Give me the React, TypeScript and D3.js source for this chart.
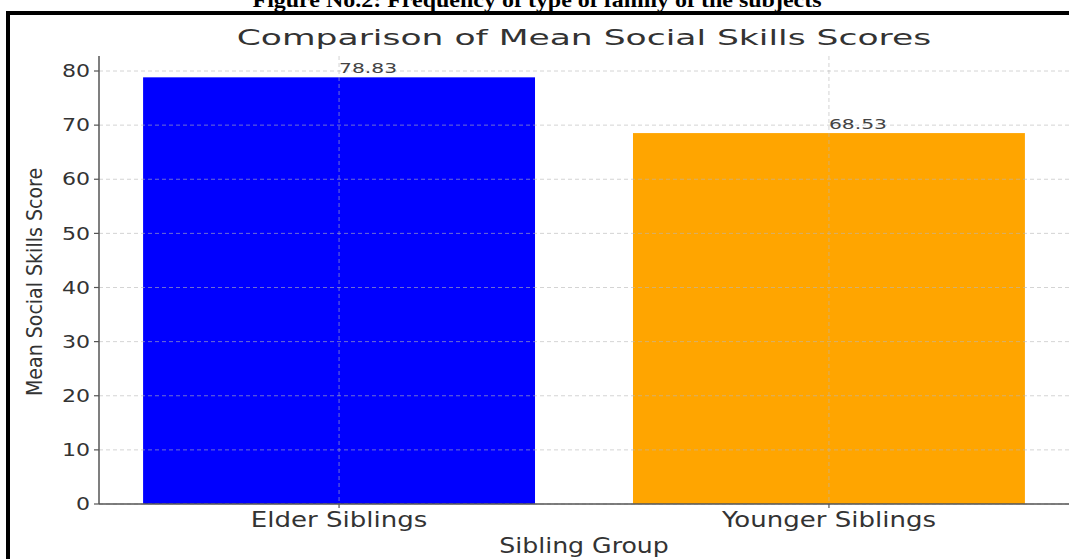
import React from "react";
import * as d3 from "d3";

// chart data
const groups = ["Elder Siblings", "Younger Siblings"];
const meanScores = [78.83, 68.53];
const barColors = ["#0000ff", "#ffa500"];
const yTicks = [0, 10, 20, 30, 40, 50, 60, 70, 80];

const W = 1069;
const H = 559;
const margin = { top: 56, right: 0, bottom: 55, left: 99 };
const FONT = "DejaVu Sans, sans-serif";

// horizontally stretched text (the source picture was widened)
function Stretched({ x, y, sx = 1.3, size, anchor = "middle", fill = "#333", children, dy = 0 }: any) {
  return (
    <text
      transform={`translate(${x},${y}) scale(${sx},1)`}
      textAnchor={anchor}
      fontSize={size}
      fontFamily={FONT}
      fill={fill}
      dy={dy}
    >
      {children}
    </text>
  );
}

export default function App() {
  const x0 = margin.left;
  const x1 = W - margin.right;
  const yBottom = H - margin.bottom;

  // matplotlib-like x limits: bars at 0 and 1, width 0.8, 5% margin
  const x = d3.scaleLinear().domain([-0.49, 1.49]).range([x0, x1]);
  const y = d3
    .scaleLinear()
    .domain([0, d3.max(meanScores)! * 1.05])
    .range([yBottom, margin.top]);
  const barW = x(0.8) - x(0);

  return (
    <div style={{ position: "absolute", left: 0, top: 0 }}>
      <svg width={W} height={H} style={{ display: "block", background: "#fff" }}>
        {/* figure caption, cut off at the top */}
        <text
          x={537}
          y={7}
          textAnchor="middle"
          fontFamily="Liberation Serif, Times New Roman, serif"
          fontWeight="bold"
          fontSize={22}
          textLength={569}
          lengthAdjust="spacingAndGlyphs"
          fill="#000"
        >
          Figure No.2: Frequency of type of family of the subjects
        </text>
        {/* frame */}
        <rect x={6} y={11} width={W} height={4} fill="#000" />
        <rect x={6} y={11} width={4} height={H} fill="#000" />

        {/* title */}
        <Stretched x={584} y={45} sx={1.57} size={22} fill="#333">
          Comparison of Mean Social Skills Scores
        </Stretched>

        {/* bars */}
        {meanScores.map((v, i) => (
          <rect
            key={groups[i]}
            x={x(i) - barW / 2}
            y={y(v)}
            width={barW}
            height={yBottom - y(v)}
            fill={barColors[i]}
          />
        ))}

        {/* grid on top of bars */}
        <g stroke="#b8b8b8" strokeOpacity={0.6} strokeDasharray="4,3" strokeWidth={1}>
          {yTicks.map((t) => (
            <line key={t} x1={x0} x2={x1} y1={y(t)} y2={y(t)} />
          ))}
          {groups.map((g, i) => (
            <line key={g} x1={x(i)} x2={x(i)} y1={margin.top} y2={yBottom} />
          ))}
        </g>

        {/* value labels */}
        {meanScores.map((v, i) => (
          <Stretched key={groups[i]} x={x(i)} y={y(v) - 4} sx={1.4} size={14.5} anchor="start" fill="#444">
            {v.toFixed(2)}
          </Stretched>
        ))}

        {/* y axis */}
        <line x1={x0} x2={x0} y1={margin.top} y2={yBottom} stroke="#555" strokeWidth={1.5} />
        {yTicks.map((t) => (
          <g key={t}>
            <line x1={x0 - 5} x2={x0} y1={y(t)} y2={y(t)} stroke="#555" strokeWidth={1.2} />
            <Stretched x={x0 - 9} y={y(t)} sx={1.3} size={17} anchor="end" dy="0.36em">
              {t}
            </Stretched>
          </g>
        ))}
        <text
          transform={`translate(42,282) rotate(-90) scale(1,1.15)`}
          textAnchor="middle"
          fontFamily={FONT}
          fontSize={19}
          fill="#333"
        >
          Mean Social Skills Score
        </text>

        {/* x axis */}
        <line x1={x0} x2={x1} y1={yBottom} y2={yBottom} stroke="#555" strokeWidth={1.5} />
        {groups.map((g, i) => (
          <g key={g}>
            <line x1={x(i)} x2={x(i)} y1={yBottom} y2={yBottom + 4} stroke="#555" strokeWidth={1.2} />
            <Stretched x={x(i)} y={527} sx={1.24} size={21}>
              {g}
            </Stretched>
          </g>
        ))}
        <Stretched x={(x0 + x1) / 2} y={553} sx={1.2} size={21}>
          Sibling Group
        </Stretched>
      </svg>
    </div>
  );
}
